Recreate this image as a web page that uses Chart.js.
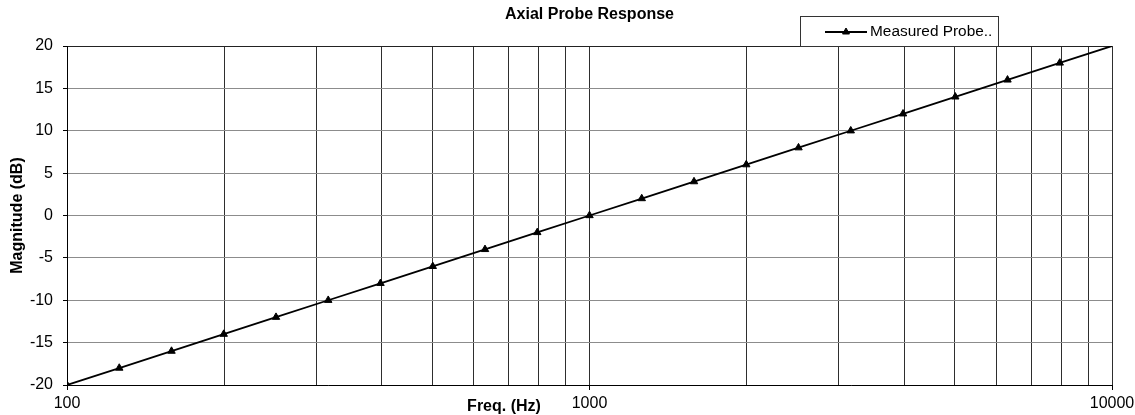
<!DOCTYPE html>
<html>
<head>
<meta charset="utf-8">
<title>Axial Probe Response</title>
<script src="https://cdn.jsdelivr.net/npm/chart.js@4.4.1/dist/chart.umd.min.js"></script>
<style>
  html, body { margin: 0; padding: 0; background: #fff; }
  #wrap { width: 1135px; height: 415px; }
</style>
</head>
<body>
<div id="wrap"><canvas id="chart" width="1135" height="415"></canvas></div>
<script>
// Third-octave measurement frequencies (Hz) and measured magnitude (dB)
const freqs = [100, 125.9, 158.5, 199.5, 251.2, 316.2, 398.1, 501.2, 631.0, 794.3, 1000,
               1258.9, 1584.9, 1995.3, 2511.9, 3162.3, 3981.1, 5011.9, 6309.6, 7943.3, 10000];
const magnitudes = [-20, -18, -16, -14, -12, -10, -8, -6, -4, -2, 0,
                    2, 4, 6, 8, 10, 12, 14, 16, 18, 20];

// Log-axis grid positions and the ones that carry a label
const gridFreqs = [100, 200, 300, 400, 500, 600, 700, 800, 900,
                   1000, 2000, 3000, 4000, 5000, 6000, 7000, 8000, 9000, 10000];
const labeledFreqs = [100, 1000, 10000];
const magnitudeTicks = [-20, -15, -10, -5, 0, 5, 10, 15, 20];

const seriesName = 'Measured Probe..';
const chartTitle = 'Axial Probe Response';
const xTitle = 'Freq. (Hz)';
const yTitle = 'Magnitude (dB)';

const FONT = "'Liberation Sans', Arial, sans-serif";

// Titles and the boxed legend are painted on top of the chart
const annotations = {
  id: 'annotations',
  afterDraw(chart) {
    const { ctx, chartArea } = chart;
    ctx.save();
    ctx.fillStyle = '#000';
    ctx.textBaseline = 'middle';

    // chart title
    ctx.font = 'bold 16px ' + FONT;
    ctx.textAlign = 'center';
    ctx.fillText(chartTitle, (chartArea.left + chartArea.right) / 2, 15);

    // x axis title
    ctx.fillText(xTitle, 504, 407);

    // y axis title
    ctx.save();
    ctx.translate(18, (chartArea.top + chartArea.bottom) / 2);
    ctx.rotate(-Math.PI / 2);
    ctx.fillText(yTitle, 0, 0);
    ctx.restore();

    // legend box
    const bx = 800, by = 16, bw = 198, bh = 30;
    ctx.fillStyle = '#fff';
    ctx.fillRect(bx, by, bw, bh);
    ctx.strokeStyle = '#333';
    ctx.lineWidth = 1;
    ctx.strokeRect(bx + 0.5, by + 0.5, bw, bh);
    const ly = by + 16;
    ctx.strokeStyle = '#000';
    ctx.lineWidth = 1.8;
    ctx.beginPath();
    ctx.moveTo(825, ly);
    ctx.lineTo(867, ly);
    ctx.stroke();
    const ds = chart.data.datasets[0];
    ctx.fillStyle = ds.pointBackgroundColor;
    ctx.lineWidth = 1;
    Chart.helpers.drawPoint(ctx, {
      pointStyle: 'triangle', radius: 4, rotation: 0, borderWidth: 1
    }, 846, ly);
    ctx.fillStyle = '#000';
    ctx.font = '15.4px ' + FONT;
    ctx.textAlign = 'left';
    ctx.fillText(ds.label, 870, ly);
    ctx.restore();
  }
};

new Chart(document.getElementById('chart'), {
  type: 'line',
  data: {
    datasets: [{
      label: seriesName,
      data: freqs.map((f, i) => ({ x: f, y: magnitudes[i] })),
      borderColor: '#000',
      borderWidth: 1.8,
      backgroundColor: '#000',
      pointBackgroundColor: '#000',
      pointBorderColor: '#000',
      pointStyle: 'triangle',
      pointRadius: ctx => (ctx.dataIndex === freqs.length - 1 ? 0 : 4.3),
      pointBorderWidth: 1,
      tension: 0,
      fill: false
    }]
  },
  options: {
    responsive: false,
    animation: false,
    devicePixelRatio: 1,
    layout: { padding: { left: 0, right: 23, top: 46, bottom: 0 } },
    plugins: {
      legend: { display: false },
      title: { display: false },
      tooltip: { enabled: false }
    },
    scales: {
      x: {
        type: 'logarithmic',
        min: 100,
        max: 10000,
        afterBuildTicks: scale => { scale.ticks = gridFreqs.map(v => ({ value: v })); },
        afterFit: scale => {
          scale.height = 30;
          scale.paddingLeft = 0;
          scale.paddingRight = 0;
        },
        ticks: {
          autoSkip: false,
          maxRotation: 0,
          padding: 4,
          color: '#000',
          font: { family: FONT, size: 16 },
          callback: value => (labeledFreqs.includes(value) ? String(value) : '')
        },
        grid: {
          color: '#2e2e2e',
          lineWidth: 1,
          tickLength: 5,
          tickColor: ctx => (ctx.tick && labeledFreqs.includes(ctx.tick.value) ? '#000' : 'rgba(0,0,0,0)')
        },
        border: { color: '#000', width: 1 }
      },
      y: {
        type: 'linear',
        min: -20,
        max: 20,
        afterBuildTicks: scale => { scale.ticks = magnitudeTicks.map(v => ({ value: v })); },
        afterFit: scale => {
          scale.width = 67;
          scale.paddingTop = 0;
          scale.paddingBottom = 0;
        },
        ticks: {
          padding: 10,
          color: '#000',
          font: { family: FONT, size: 16 }
        },
        grid: {
          color: ctx => (ctx.tick && ctx.tick.value === 20 ? '#222' : '#8c8c8c'),
          lineWidth: 1,
          tickLength: 4,
          tickColor: '#000'
        },
        border: { color: '#000', width: 1 }
      }
    }
  },
  plugins: [annotations]
});
</script>
</body>
</html>
